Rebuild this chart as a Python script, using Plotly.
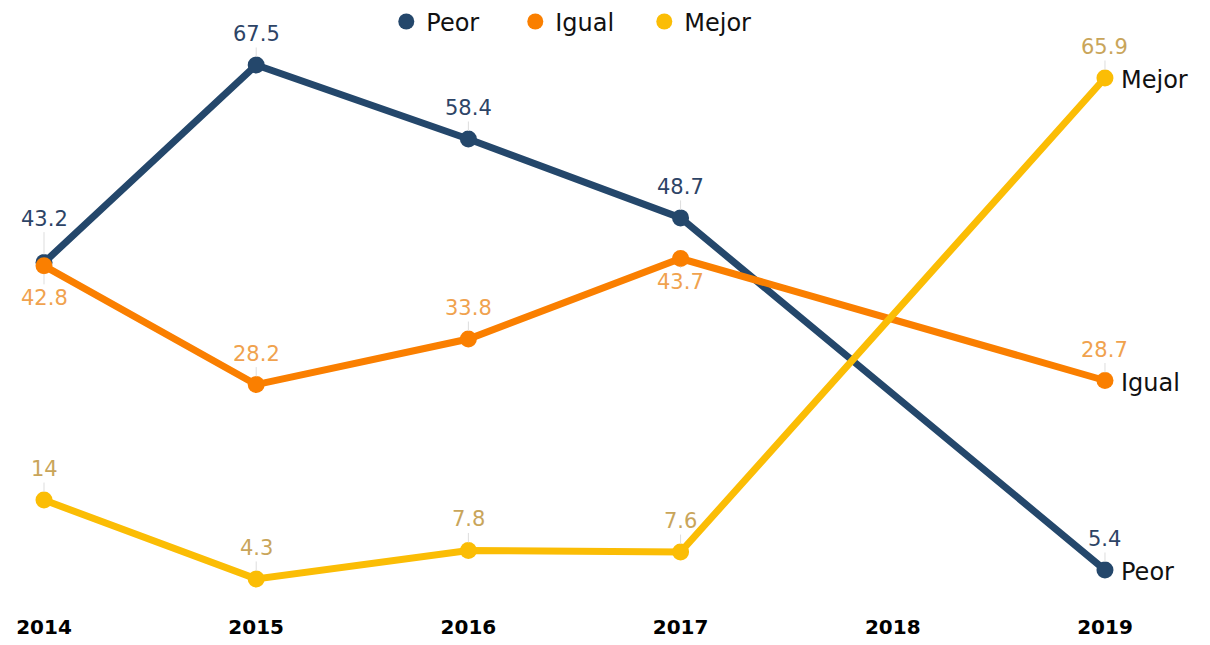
import plotly.graph_objects as go

years = ["2014", "2015", "2016", "2017", "2018", "2019"]
peor = [43.2, 67.5, 58.4, 48.7, None, 5.4]
igual = [42.8, 28.2, 33.8, 43.7, None, 28.7]
mejor = [14, 4.3, 7.8, 7.6, None, 65.9]

series = [
    ("Peor", peor, "#24476B", "#2D4466"),
    ("Igual", igual, "#FA7F00", "#F0A24E"),
    ("Mejor", mejor, "#FBBD05", "#C9A55A"),
]
# label offsets in px (series name -> {year index: offset}); default above
label_offset = {"Peor": {0: -44}, "Igual": {0: 32, 3: 23}}

FONT = "DejaVu Sans"
xpos = list(range(len(years)))

fig = go.Figure()
annotations = []
for name, vals, col, lcol in series:
    xs = [x for x, v in zip(xpos, vals) if v is not None]
    ys = [v for v in vals if v is not None]
    fig.add_trace(go.Scatter(
        x=xs, y=ys, mode="lines+markers", name=name, showlegend=False,
        line=dict(color=col, width=7), marker=dict(color=col, size=17),
        hoverinfo="skip"))
    fig.add_trace(go.Scatter(
        x=[None], y=[None], mode="markers", name=name, showlegend=True,
        marker=dict(color=col, size=22)))
    for i, (x, v) in enumerate(zip(xpos, vals)):
        if v is None:
            continue
        ay = label_offset.get(name, {}).get(i, -31)
        annotations.append(dict(
            x=x, y=v, xref="x", yref="y",
            text=f"{v:g}", showarrow=True, arrowhead=0, arrowwidth=1,
            arrowcolor="#DDDDDD", standoff=8, ax=0, ay=ay,
            font=dict(family=FONT, size=21, color=lcol)))
    annotations.append(dict(
        x=xs[-1], y=ys[-1], xref="x", yref="y", text=name, showarrow=False,
        xanchor="left", xshift=14, yshift=-2,
        font=dict(family=FONT, size=24, color="#111111")))

fig.update_layout(
    width=1202, height=637,
    margin=dict(l=0, r=0, t=0, b=32, autoexpand=False),
    paper_bgcolor="white", plot_bgcolor="white",
    showlegend=True,
    legend=dict(orientation="h", x=0.4757, xanchor="center", y=0.977,
                yanchor="middle", entrywidth=84,
                font=dict(family=FONT, size=24, color="#111111"),
                bgcolor="rgba(0,0,0,0)"),
    annotations=annotations,
    xaxis=dict(range=[-0.1697, 5.495], tickvals=xpos, ticktext=years,
               showgrid=False, zeroline=False, showline=False, ticks="",
               tickfont=dict(family=FONT, size=20, color="#000000", weight="bold")),
    yaxis=dict(range=[0.11, 74.51], visible=False, showgrid=False, zeroline=False),
)

fig.write_html("out.html")
